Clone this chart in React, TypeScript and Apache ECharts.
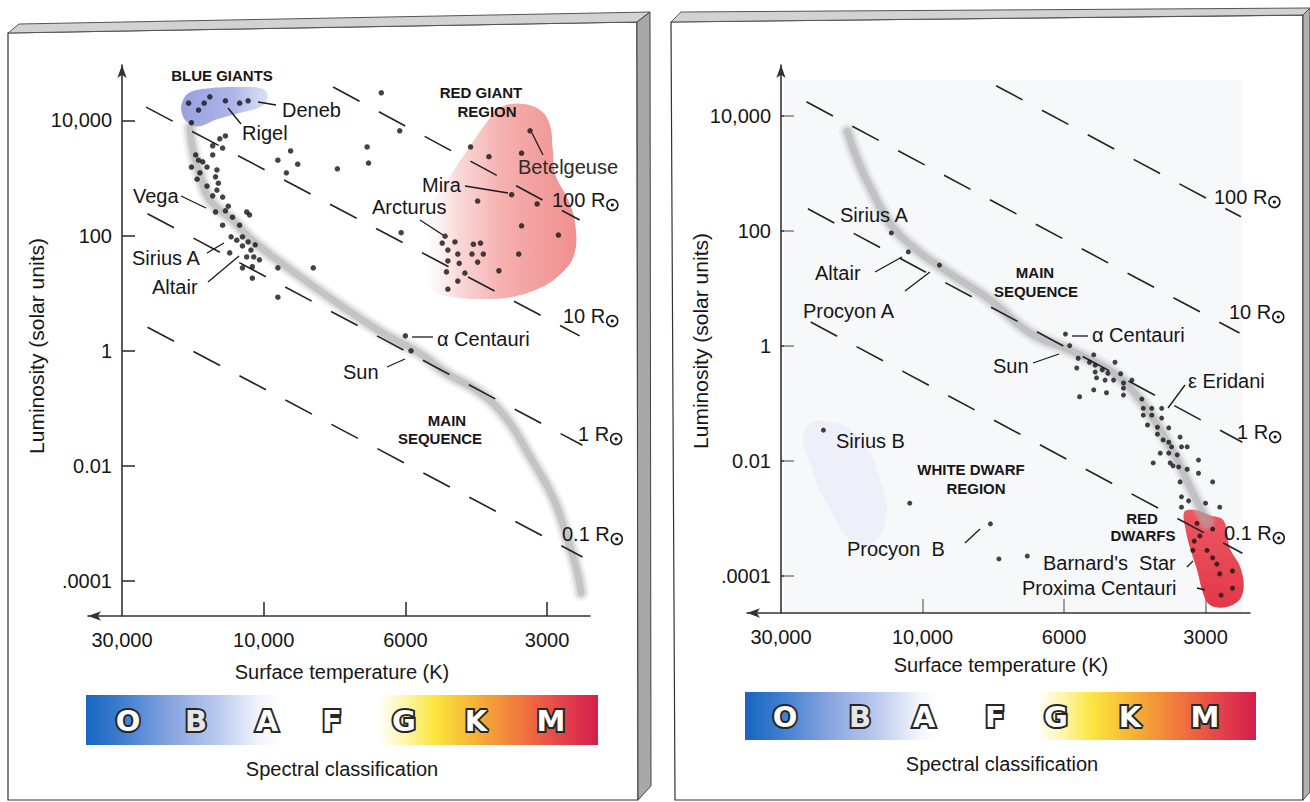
import React, { useEffect, useRef } from "react";
import * as echarts from "echarts";

const FONT = "'Liberation Sans', Arial, Helvetica, sans-serif";
const LETTER_FONT = "'DejaVu Sans', 'Liberation Sans', sans-serif";

// ---------- axes (x: position on the temperature scale, 0 = 30,000 K ... 3 = 3000 K; y: log10 L/Lsun) ----------
const tempTickPos = [0, 1, 2, 3];
const tempTickLabels = ["30,000", "10,000", "6000", "3000"];
const lumTickPos = [4, 2, 0, -2, -4];
const lumTickLabels = ["10,000", "100", "1", "0.01", ".0001"];
const spectralClasses = ["O", "B", "A", "F", "G", "K", "M"];

// ---------- left diagram ----------
const leftBlueGiants = [[0.47, 4.3], [0.54, 4.18], [0.58, 4.3], [0.62, 4.41], [0.73, 4.34], [0.83, 4.3], [0.89, 4.34], [0.49, 3.96]];
const leftUpperMain = [
  [0.73, 3.73], [0.69, 3.68], [0.64, 3.56], [0.71, 3.52], [0.64, 3.4], [0.52, 3.4], [0.54, 3.31], [0.57, 3.28],
  [0.49, 3.19], [0.6, 3.19], [0.55, 3.09], [0.67, 3.14], [0.66, 3.02], [0.53, 2.98], [0.6, 2.86], [0.68, 2.91],
  [0.67, 2.79], [0.64, 2.69], [0.71, 2.67], [0.75, 2.51], [0.66, 2.41], [0.73, 2.43], [0.78, 2.32], [0.71, 2.18],
  [0.88, 2.41], [0.9, 2.36], [0.83, 2.18], [0.77, 1.98], [0.81, 1.92], [0.85, 1.98], [0.89, 1.89], [0.94, 1.84],
  [0.85, 1.82], [0.91, 1.75], [0.76, 1.7], [0.88, 1.63], [0.93, 1.63], [0.97, 1.58], [0.85, 1.44], [0.92, 1.46],
  [0.92, 1.26], [1.1, 1.44], [1.35, 1.44], [1.1, 0.93],
];
const leftScattered = [[1.83, 4.48], [1.96, 3.82], [1.19, 3.47], [1.1, 3.31], [1.24, 3.24], [1.16, 3.09], [1.52, 3.16], [1.73, 3.54], [1.74, 3.26], [1.97, 2.05]];
const leftRedGiants = [
  [2.88, 3.82], [2.46, 3.54], [2.59, 3.37], [2.82, 3.43], [2.75, 2.71], [2.51, 2.6], [2.93, 2.55], [2.82, 2.17],
  [3.08, 2.01], [2.8, 1.68], [2.66, 1.39],
  [2.28, 1.99], [2.35, 1.89], [2.26, 1.87], [2.48, 1.85], [2.53, 1.87], [2.3, 1.75], [2.37, 1.68], [2.47, 1.68],
  [2.55, 1.68], [2.3, 1.56], [2.38, 1.52], [2.51, 1.54], [2.42, 1.35], [2.29, 1.37], [2.37, 1.21], [2.3, 1.07],
];
const leftSunAndAlphaCen = [[2.04, 0.0], [2.0, 0.26]];
const leftMainBand = [
  [0.48, 3.87], [0.5, 3.49], [0.54, 3.14], [0.62, 2.62], [0.78, 2.27], [0.92, 1.92], [1.16, 1.46], [1.49, 0.88],
  [1.84, 0.31], [2.1, -0.04], [2.29, -0.39], [2.53, -0.73], [2.72, -1.2], [2.88, -1.84], [3.04, -2.54], [3.14, -3.23],
  [3.21, -3.81], [3.24, -4.2],
];
const leftRadius100 = [[1.49, 4.58], [3.23, 2.27]];
const leftRadius10 = [[0.17, 4.23], [3.23, 0.26]];
const leftRadius1 = [[0.18, 2.38], [3.25, -1.64]];
const leftRadius01 = [[0.18, 0.41], [3.25, -3.58]];
const leftRedGiantRegion = [
  [2.19, 1.06], [2.16, 1.75], [2.19, 2.53], [2.32, 3.05], [2.44, 3.49], [2.56, 3.92], [2.67, 4.22], [2.81, 4.29],
  [2.95, 4.18], [3.02, 3.92], [3.04, 3.49], [3.06, 3.05], [3.15, 2.62], [3.2, 2.18], [3.19, 1.66], [3.09, 1.32],
  [2.95, 1.09], [2.74, 0.93], [2.53, 0.9], [2.35, 0.93],
];
const leftBlueGiantRegion = [
  [0.43, 4.35], [0.48, 4.49], [0.62, 4.56], [0.83, 4.58], [0.99, 4.55], [1.03, 4.42], [0.99, 4.25], [0.83, 4.13],
  [0.66, 4.01], [0.55, 3.9], [0.47, 3.94], [0.42, 4.15],
];

// ---------- right diagram ----------
const rightNamedStars = [[0.78, 1.96], [0.9, 1.63], [1.12, 1.4], [2.01, 0.2], [2.04, 0.0]];
const rightMainSeq = [
  [2.1, -0.22], [2.09, -0.39], [2.21, -0.16], [2.18, -0.29], [2.22, -0.34], [2.27, -0.42], [2.31, -0.48], [2.36, -0.29],
  [2.22, -0.46], [2.23, -0.56], [2.29, -0.6], [2.35, -0.6], [2.4, -0.49], [2.42, -0.65], [2.42, -0.74], [2.42, -0.86],
  [2.48, -0.6], [2.21, -0.77], [2.3, -0.82], [2.11, -0.89], [2.55, -0.93], [2.56, -1.09], [2.62, -1.09], [2.69, -1.09],
  [2.56, -1.21], [2.62, -1.21], [2.69, -1.26], [2.59, -1.38], [2.66, -1.42], [2.74, -1.43], [2.66, -1.54], [2.7, -1.64],
  [2.74, -1.68], [2.82, -1.59], [2.76, -1.76], [2.83, -1.76], [2.87, -1.76], [2.68, -1.87], [2.74, -1.87], [2.8, -1.9],
  [2.63, -2.04], [2.75, -2.04], [2.77, -2.09], [2.81, -2.11], [2.87, -2.15], [2.95, -1.99], [2.95, -2.22], [2.82, -2.37],
  [3.05, -2.37], [2.83, -2.63], [2.88, -2.7], [3.0, -2.74], [3.1, -2.81], [2.83, -2.81],
];
const rightRedDwarfs = [[2.94, -3.09], [3.05, -3.19], [2.96, -3.31], [2.92, -3.4], [2.91, -3.56], [3.01, -3.56], [3.05, -3.69], [3.08, -3.8], [3.19, -3.92], [3.1, -3.97], [3.19, -4.22], [3.11, -4.34]];
const rightWhiteDwarfs = [[0.3, -1.47], [0.91, -2.74], [1.48, -3.1], [1.54, -3.71], [1.74, -3.66]];
const rightMainBand = [
  [0.47, 3.72], [0.54, 3.23], [0.65, 2.65], [0.79, 2.06], [0.96, 1.66], [1.19, 1.26], [1.48, 0.79], [1.76, 0.22],
  [2.04, -0.08], [2.35, -0.48], [2.54, -0.95], [2.68, -1.47], [2.8, -1.99], [2.89, -2.46], [2.96, -2.81], [3.01, -3.07],
];
const rightRadius100 = [[1.52, 4.52], [3.25, 2.24]];
const rightRadius10 = [[0.18, 4.24], [3.24, 0.22]];
const rightRadius1 = [[0.19, 2.38], [3.26, -1.68]];
const rightRadius01 = [[0.21, 0.41], [3.26, -3.61]];
const rightRedDwarfRegion = [
  [2.85, -2.89], [2.93, -2.86], [3.03, -2.95], [3.12, -3.02], [3.15, -3.21], [3.17, -3.52], [3.24, -3.82], [3.27, -4.16],
  [3.24, -4.42], [3.14, -4.55], [3.03, -4.51], [2.98, -4.29], [2.94, -3.9], [2.89, -3.52], [2.86, -3.21],
];
const rightWhiteDwarfRegion = [[0.17, -1.47], [0.35, -1.33], [0.56, -1.64], [0.7, -2.34], [0.74, -3.03], [0.63, -3.47], [0.49, -3.38], [0.35, -2.86], [0.22, -2.16]];

function measure(text: string, font: string): number {
  const c = document.createElement("canvas").getContext("2d");
  if (!c) return text.length * 10;
  c.font = font;
  return c.measureText(text).width;
}

function txt(text: string, x: number, y: number, o: any = {}) {
  const style: any = {
    text,
    x: 0,
    y: 0,
    fill: o.fill || "#161616",
    font: `${o.weight || "normal"} ${o.size || 20}px ${o.family || FONT}`,
    align: o.align || "left",
    textAlign: o.align || "left",
    verticalAlign: "middle",
    textVerticalAlign: "middle",
  };
  if (o.stroke) {
    style.stroke = o.stroke;
    style.lineWidth = o.lineWidth || 1;
  }
  return { type: "text", z: 10, x, y, rotation: o.rotation || 0, silent: true, style };
}

function seg(x1: number, y1: number, x2: number, y2: number, w = 1.3) {
  return { type: "line", z: 10, silent: true, shape: { x1, y1, x2, y2 }, style: { stroke: "#1a1a1a", lineWidth: w } };
}

function rLabel(num: string, x: number, y: number) {
  const t = `${num} R`;
  const w = measure(t, `20px ${FONT}`);
  return [
    txt(t, x, y),
    { type: "circle", z: 10, silent: true, shape: { cx: x + w + 7, cy: y + 5, r: 5.5 }, style: { fill: "none", stroke: "#1a1a1a", lineWidth: 1.5 } },
    { type: "circle", z: 10, silent: true, shape: { cx: x + w + 7, cy: y + 5, r: 1.6 }, style: { fill: "#1a1a1a" } },
  ];
}

function spectralBar(x: number, y: number, w: number, h: number, letterX: number[]) {
  const grad = new echarts.graphic.LinearGradient(0, 0, 1, 0, [
    { offset: 0, color: "#1766c0" },
    { offset: 0.07, color: "#3e7ecf" },
    { offset: 0.16, color: "#84a2de" },
    { offset: 0.26, color: "#bccbee" },
    { offset: 0.34, color: "#f2f5fc" },
    { offset: 0.38, color: "#ffffff" },
    { offset: 0.57, color: "#ffffff" },
    { offset: 0.62, color: "#fff6b0" },
    { offset: 0.68, color: "#fbe63e" },
    { offset: 0.76, color: "#f6b236" },
    { offset: 0.86, color: "#f0703e" },
    { offset: 0.93, color: "#e5424a" },
    { offset: 1, color: "#d21f4d" },
  ]);
  const els: any[] = [{ type: "rect", z: 5, silent: true, shape: { x, y, width: w, height: h }, style: { fill: grad } }];
  spectralClasses.forEach((c, i) => {
    els.push(
      txt(c, letterX[i], y + h / 2 + 1, {
        size: 29,
        weight: "bold",
        family: LETTER_FONT,
        align: "center",
        fill: c === "B" ? "#e6e6e6" : "#ffffff",
        stroke: "#262626",
        lineWidth: 4,
      })
    );
  });
  return els;
}

function blob(points: number[][], g: number, fill: any, smooth = 0.35, z = 2) {
  return {
    type: "custom",
    xAxisIndex: g,
    yAxisIndex: g,
    z,
    silent: true,
    data: [0],
    renderItem: (_p: any, api: any) => ({
      type: "polygon",
      shape: { points: points.map((p) => api.coord(p)), smooth },
      style: { fill, stroke: "none" },
    }),
  };
}

function band(points: number[][], g: number) {
  const layers: [number, string][] = [
    [17, "rgba(195,195,195,0.2)"],
    [12, "rgba(178,178,178,0.3)"],
    [7, "rgba(160,160,160,0.42)"],
  ];
  return layers.map(([w, c]) => ({
    type: "line",
    xAxisIndex: g,
    yAxisIndex: g,
    z: 3,
    silent: true,
    data: points,
    smooth: 0.45,
    symbol: "none",
    lineStyle: { width: w, color: c, cap: "round" },
  }));
}

function radius(points: number[][], g: number) {
  return {
    type: "line",
    xAxisIndex: g,
    yAxisIndex: g,
    z: 4,
    silent: true,
    data: points,
    symbol: "none",
    lineStyle: { type: [30, 22], width: 1.6, color: "#222" },
  };
}

function stars(points: number[][], g: number, size: number) {
  return { type: "scatter", xAxisIndex: g, yAxisIndex: g, z: 5, silent: true, data: points, symbolSize: size, itemStyle: { color: "#141414" } };
}

const axisLineStyle = { color: "#333", width: 1.6 };

function xAxis(g: number, max: number) {
  return {
    type: "value",
    gridIndex: g,
    min: -0.24,
    max,
    axisLine: { show: true, onZero: false, symbol: ["arrow", "none"], symbolSize: [7, 13], lineStyle: axisLineStyle },
    axisTick: { show: true, inside: true, length: 14, customValues: [1, 2, 3], lineStyle: axisLineStyle },
    axisLabel: {
      show: true,
      customValues: tempTickPos,
      formatter: (v: number) => tempTickLabels[tempTickPos.indexOf(Math.round(v))] || "",
      margin: 14,
      fontSize: 20,
      color: "#161616",
      fontFamily: FONT,
    },
    splitLine: { show: false },
  };
}

function yAxis(g: number, min: number, max: number) {
  return {
    type: "value",
    gridIndex: g,
    min,
    max,
    axisLine: { show: true, onZero: true, symbol: ["none", "arrow"], symbolSize: [7, 13], lineStyle: axisLineStyle },
    axisTick: { show: true, inside: true, length: 13, customValues: lumTickPos, lineStyle: axisLineStyle },
    axisLabel: {
      show: true,
      customValues: lumTickPos,
      formatter: (v: number) => lumTickLabels[lumTickPos.indexOf(Math.round(v))] || "",
      margin: -24,
      fontSize: 20,
      color: "#161616",
      fontFamily: FONT,
    },
    splitLine: { show: false },
  };
}

export default function App() {
  const ref = useRef<HTMLDivElement>(null);

  useEffect(() => {
    if (!ref.current) return;
    const chart = echarts.init(ref.current, null, { renderer: "svg" });

    const frames: any[] = [
      { type: "polygon", z: 0, silent: true, shape: { points: [[8, 33], [637, 22], [638, 800], [8, 800]] }, style: { fill: "#ffffff", stroke: "#333", lineWidth: 1.2 } },
      { type: "polygon", z: 0, silent: true, shape: { points: [[8, 33], [19, 24], [650, 12], [637, 22]] }, style: { fill: "#d2d2d2", stroke: "#555", lineWidth: 1 } },
      { type: "polygon", z: 0, silent: true, shape: { points: [[637, 22], [650, 12], [651, 786], [638, 800]] }, style: { fill: "#a8a8a8", stroke: "#444", lineWidth: 1 } },
      { type: "polygon", z: 0, silent: true, shape: { points: [[671, 22], [1303, 15], [1303, 800], [675, 800]] }, style: { fill: "#ffffff", stroke: "#333", lineWidth: 1.2 } },
      { type: "polygon", z: 0, silent: true, shape: { points: [[671, 22], [681, 12], [1310, 8], [1303, 15]] }, style: { fill: "#d2d2d2", stroke: "#555", lineWidth: 1 } },
      { type: "polygon", z: 0, silent: true, shape: { points: [[1303, 15], [1310, 8], [1310, 792], [1303, 800]] }, style: { fill: "#b0b0b0", stroke: "#444", lineWidth: 1 } },
      { type: "rect", z: 1, silent: true, shape: { x: 784, y: 80, width: 458, height: 532 }, style: { fill: "rgba(238,240,245,0.45)" } },
    ];

    const labels: any[] = [
      // left axis titles
      txt("Luminosity (solar units)", 36, 346, { align: "center", rotation: Math.PI / 2, size: 21 }),
      txt("Surface temperature (K)", 342, 672, { align: "center" }),
      txt("Spectral classification", 342, 769, { align: "center" }),
      // left annotations
      txt("BLUE GIANTS", 222, 75, { align: "center", weight: "bold", size: 15 }),
      txt("Deneb", 282, 110), seg(258, 102, 276, 105),
      txt("Rigel", 242, 133), seg(228, 108, 241, 124),
      txt("RED GIANT", 481, 92, { align: "center", weight: "bold", size: 15 }),
      txt("REGION", 487, 111, { align: "center", weight: "bold", size: 15 }),
      txt("Betelgeuse", 518, 167, { fill: "#2b2b2b" }), seg(532, 133, 543, 155),
      txt("Mira", 422, 185), seg(465, 186, 508, 193),
      txt("Arcturus", 372, 207), seg(420, 220, 443, 235),
      txt("Vega", 133, 196), seg(181, 196, 206, 208),
      txt("Sirius A", 132, 258), seg(207, 253, 224, 243),
      txt("Altair", 152, 287), seg(208, 282, 239, 256),
      txt("α Centauri", 437, 339), seg(412, 337, 433, 337),
      txt("Sun", 343, 372), seg(387, 367, 405, 359),
      txt("MAIN", 447, 420, { align: "center", weight: "bold", size: 15 }),
      txt("SEQUENCE", 440, 438, { align: "center", weight: "bold", size: 15 }),
      ...rLabel("100", 552, 200),
      ...rLabel("10", 563, 316),
      ...rLabel("1", 578, 434),
      ...rLabel("0.1", 562, 534),
      // right axis titles
      txt("Luminosity (solar units)", 700, 341, { align: "center", rotation: Math.PI / 2, size: 21 }),
      txt("Surface temperature (K)", 1001, 665, { align: "center" }),
      txt("Spectral classification", 1002, 764, { align: "center" }),
      // right annotations
      txt("Sirius A", 840, 215),
      txt("Altair", 815, 273), seg(875, 272, 902, 257),
      txt("Procyon A", 803, 311), seg(905, 291, 930, 272),
      txt("MAIN", 1035, 272, { align: "center", weight: "bold", size: 15 }),
      txt("SEQUENCE", 1036, 291, { align: "center", weight: "bold", size: 15 }),
      txt("α Centauri", 1092, 335), seg(1072, 336, 1088, 336),
      txt("Sun", 993, 366), seg(1033, 363, 1059, 354),
      txt("ε Eridani", 1188, 381), seg(1168, 408, 1185, 385),
      txt("Sirius B", 836, 441),
      txt("WHITE DWARF", 971, 469, { align: "center", weight: "bold", size: 15 }),
      txt("REGION", 976, 488, { align: "center", weight: "bold", size: 15 }),
      txt("Procyon  B", 847, 549), seg(965, 543, 980, 529),
      txt("RED", 1142, 518, { align: "center", weight: "bold", size: 15 }),
      txt("DWARFS", 1143, 535, { align: "center", weight: "bold", size: 15 }),
      txt("Barnard's  Star", 1043, 563), seg(1187, 567, 1193, 561),
      txt("Proxima Centauri", 1022, 588), seg(1197, 588, 1205, 590),
      ...rLabel("100", 1214, 197),
      ...rLabel("10", 1229, 312),
      ...rLabel("1", 1237, 432),
      ...rLabel("0.1", 1224, 533),
    ];

    const bars = [
      ...spectralBar(86, 695, 512, 50, [128, 196, 267, 332, 404, 476, 551]),
      ...spectralBar(745, 692, 511, 48, [785, 860, 924, 995, 1056, 1130, 1205]),
    ];

    const pinkFill = new echarts.graphic.LinearGradient(0, 0, 1, 0, [
      { offset: 0, color: "rgba(248,222,222,0.1)" },
      { offset: 0.22, color: "rgba(246,196,196,0.7)" },
      { offset: 0.5, color: "#f5b0ae" },
      { offset: 1, color: "#f08f8e" },
    ]);
    const blueFill = new echarts.graphic.LinearGradient(0, 0, 1, 0, [
      { offset: 0, color: "#98a1e0" },
      { offset: 0.6, color: "#adb5e8" },
      { offset: 1, color: "rgba(200,207,241,0.65)" },
    ]);
    const redFill = new echarts.graphic.LinearGradient(0, 0, 0, 1, [
      { offset: 0, color: "#ec5862" },
      { offset: 1, color: "#e23848" },
    ]);

    chart.setOption({
      animation: false,
      backgroundColor: "#ffffff",
      textStyle: { fontFamily: FONT },
      grid: [
        { left: 88, top: 65, width: 502, height: 551 },
        { left: 747, top: 65, width: 503, height: 548 },
      ],
      xAxis: [xAxis(0, 3.303), xAxis(1, 3.314)],
      yAxis: [yAxis(0, -4.604, 4.962), yAxis(1, -4.65, 4.88)],
      graphic: { elements: [...frames, ...bars, ...labels] },
      series: [
        blob(leftRedGiantRegion, 0, pinkFill, 0.4),
        blob(leftBlueGiantRegion, 0, blueFill, 0.4),
        ...band(leftMainBand, 0),
        radius(leftRadius100, 0),
        radius(leftRadius10, 0),
        radius(leftRadius1, 0),
        radius(leftRadius01, 0),
        stars([...leftBlueGiants, ...leftUpperMain, ...leftScattered, ...leftRedGiants, ...leftSunAndAlphaCen], 0, 5.5),

        blob(rightWhiteDwarfRegion, 1, "rgba(222,228,244,0.4)", 0.5),
        ...band(rightMainBand, 1),
        blob(rightRedDwarfRegion, 1, redFill, 0.35, 3),
        radius(rightRadius100, 1),
        radius(rightRadius10, 1),
        radius(rightRadius1, 1),
        radius(rightRadius01, 1),
        stars([...rightNamedStars, ...rightMainSeq, ...rightRedDwarfs, ...rightWhiteDwarfs], 1, 5),
      ],
    });

    return () => chart.dispose();
  }, []);

  return (
    <div
      ref={ref}
      style={{ position: "fixed", left: 0, top: 0, width: 1310, height: 802, background: "#fff" }}
    />
  );
}
